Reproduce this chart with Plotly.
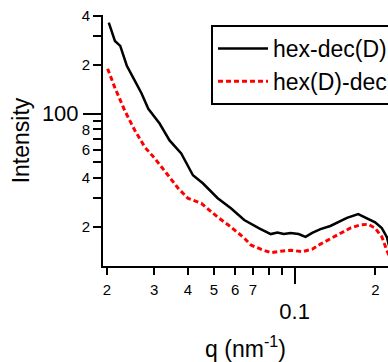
import plotly.graph_objects as go

# ---- data ----
q_black = [0.0203, 0.0214, 0.0224, 0.0237, 0.0254, 0.0269, 0.0285, 0.0314, 0.0342, 0.0378,
           0.0418, 0.0455, 0.0517, 0.0579, 0.0649, 0.0738, 0.0815, 0.0863, 0.0911, 0.0967,
           0.1035, 0.1098, 0.1163, 0.1248, 0.1359, 0.1455, 0.1567, 0.1726, 0.1859, 0.1995,
           0.2113, 0.2205, 0.2268]
I_black = [363, 280, 261, 197, 159, 133, 107, 86.8, 68.3, 56.8,
           41.7, 37.2, 30.1, 26.1, 22.1, 19.6, 18.1, 18.5, 18.1, 18.4,
           18.1, 17.4, 18.4, 19.4, 20.3, 21.4, 22.8, 24.0, 22.7, 21.4,
           19.7, 17.4, 14.5]

q_red = [0.0201, 0.0214, 0.0233, 0.0254, 0.0277, 0.0301, 0.0333, 0.0368, 0.0400, 0.0449,
         0.0517, 0.0579, 0.0649, 0.0687, 0.0748, 0.0815, 0.0887, 0.0967, 0.1068, 0.1163,
         0.1248, 0.1359, 0.1480, 0.1612, 0.1756, 0.1879, 0.1995, 0.2113, 0.2205, 0.2268]
I_red = [189, 144, 104, 78.6, 61.9, 53.0, 42.9, 34.7, 30.1, 28.0,
         23.0, 20.0, 17.1, 15.5, 14.6, 13.9, 14.2, 14.4, 14.1, 14.6,
         15.7, 16.9, 18.4, 19.7, 20.6, 20.8, 19.7, 17.4, 14.4, 12.9]

series_names = ["hex-dec(D)", "hex(D)-dec"]

x_minor_vals = [0.02, 0.03, 0.04, 0.05, 0.06, 0.07, 0.08, 0.09, 0.2]
x_minor_text = ["2", "3", "4", "5", "6", "7", "", "", "2"]
x_major_vals = [0.1]
x_major_text = ["0.1"]

y_minor_vals = [20, 30, 40, 50, 60, 70, 80, 90, 200, 300, 400]
y_minor_text = ["2", "", "4", "", "6", "", "8", "", "2", "", "4"]
y_major_vals = [100]
y_major_text = ["100"]

x_range = [-1.714, -0.652]
y_range = [1.061, 2.607]

FONT = "Liberation Sans, Arial, sans-serif"

fig = go.Figure()
fig.add_trace(go.Scatter(x=q_black, y=I_black, mode="lines", name=series_names[0],
                         line=dict(color="black", width=2.5)))
fig.add_trace(go.Scatter(x=q_red, y=I_red, mode="lines", name=series_names[1],
                         line=dict(color="#ff0000", width=3, dash="5px,3px")))
# empty trace that carries the overlay axes (long major ticks)
fig.add_trace(go.Scatter(x=[], y=[], xaxis="x2", yaxis="y2", showlegend=False, hoverinfo="skip"))

common = dict(type="log", showgrid=False, zeroline=False, ticks="outside",
              tickcolor="black", tickwidth=2, color="black")

fig.update_layout(
    width=388, height=362,
    margin=dict(l=103, r=0, t=15, b=96, autoexpand=False),
    paper_bgcolor="white", plot_bgcolor="white",
    font=dict(family=FONT, color="black"),
    xaxis=dict(**common, range=x_range, tickmode="array", tickvals=x_minor_vals,
               ticktext=x_minor_text, ticklen=7, tickfont=dict(size=15),
               ticklabelstandoff=2,
               showline=True, linecolor="black", linewidth=2,
               title=dict(text="\u00a0\u00a0q (nm<sup>-1</sup>)", font=dict(size=23), standoff=54)),
    xaxis2=dict(**common, range=x_range, overlaying="x", anchor="y2", side="bottom",
                tickmode="array", tickvals=x_major_vals, ticktext=x_major_text,
                ticklen=16, tickfont=dict(size=22), ticklabelstandoff=9,
                showline=True, linecolor="black", linewidth=2),
    yaxis=dict(**common, range=y_range, tickmode="array", tickvals=y_minor_vals,
               ticktext=y_minor_text, ticklen=8, tickfont=dict(size=15),
               showline=True, linecolor="black", linewidth=2,
               title=dict(text="Intensity", font=dict(size=23), standoff=46)),
    yaxis2=dict(**common, range=y_range, overlaying="y", anchor="x2", side="left",
                tickmode="array", tickvals=y_major_vals, ticktext=y_major_text,
                ticklen=18, tickfont=dict(size=22),
                showline=True, linecolor="black", linewidth=2),
    legend=dict(x=0.379, y=0.9602, xanchor="left", yanchor="top",
                bgcolor="white", bordercolor="black", borderwidth=2,
                font=dict(size=23, family=FONT), itemwidth=50),
    showlegend=True,
)

fig.write_html("out.html", config={"displayModeBar": False},
               post_script="document.body.style.margin='0';document.body.style.overflow='hidden';")
